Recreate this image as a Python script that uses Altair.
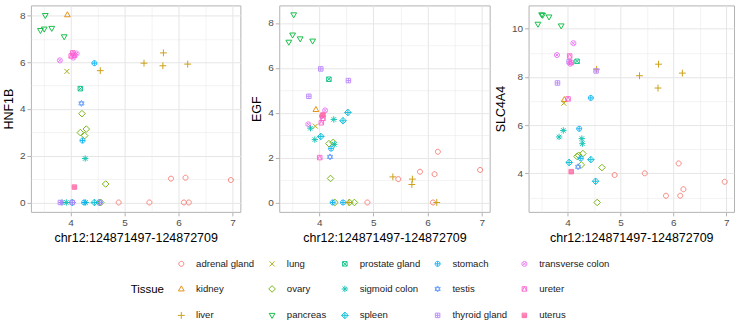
import math
import altair as alt
import pandas as pd

# One row per sample: tissue, chromatin signal at chr12:124871497-124872709,
# and expression of the three genes.
tissue = (
    ["adrenal gland"] * 7
    + ["kidney"]
    + ["liver"] * 5
    + ["lung"]
    + ["ovary"] * 6
    + ["pancreas"] * 5
    + ["prostate gland"]
    + ["sigmoid colon"] * 4
    + ["spleen"] * 3
    + ["stomach"] * 3
    + ["testis"]
    + ["thyroid gland"] * 3
    + ["transverse colon"] * 3
    + ["ureter"] * 3
    + ["uterus"]
)

region_signal = [
    4.89, 5.46, 5.86, 6.10, 6.13, 6.19, 6.97,   # adrenal gland
    3.94,                                       # kidney
    4.55, 5.36, 5.71, 5.72, 6.17,               # liver
    3.93,                                       # lung
    4.18, 4.21, 4.26, 4.29, 4.56, 4.65,         # ovary
    3.44, 3.51, 3.53, 3.65, 3.88,               # pancreas
    4.18,                                       # prostate gland
    3.84, 3.92, 4.27, 4.28,                     # sigmoid colon
    4.03, 4.44, 4.53,                           # spleen
    4.22, 4.25, 4.44,                           # stomach
    4.20,                                       # testis
    3.81, 4.03, 4.54,                           # thyroid gland
    3.80, 4.05, 4.11,                           # transverse colon
    4.01, 4.04, 4.07,                           # ureter
    4.07,                                       # uterus
]

hnf1b = [
    0.00, 0.00, 1.02, 0.00, 1.06, 0.00, 0.96,
    8.03,
    5.64, 5.96, 5.85, 6.40, 5.92,
    5.61,
    2.99, 3.80, 2.86, 3.14, 0.00, 0.79,
    7.36, 7.42, 8.00, 7.45, 7.09,
    4.87,
    0.00, 0.00, 1.88, 0.00,
    0.00, 0.00, 0.00,
    2.65, 0.00, 5.96,
    4.24,
    0.00, 0.00, 0.00,
    6.08, 6.20, 6.37,
    6.27, 6.40, 6.30,
    0.66,
]

egf = [
    0.00, 1.04, 1.37, 0.00, 1.26, 2.26, 1.45,
    4.14,
    0.00, 1.14, 0.80, 1.04, 0.00,
    3.40,
    2.62, 1.07, 2.68, 0.00, 0.00, 0.00,
    7.14, 7.46, 8.36, 7.29, 7.19,
    5.49,
    3.31, 2.80, 3.70, 2.59,
    2.94, 3.64, 4.01,
    2.40, 0.00, 0.00,
    2.03,
    4.73, 5.95, 5.43,
    3.48, 3.85, 4.10,
    2.00, 3.55, 3.75,
    3.90,
]

slc4a4 = [
    3.93, 4.00, 3.07, 4.41, 3.07, 3.34, 3.65,
    7.06,
    8.32, 8.05, 7.54, 8.53, 8.16,
    6.91,
    4.70, 4.75, 4.35, 4.82, 2.79, 4.24,
    10.19, 10.58, 10.56, 10.49, 10.12,
    8.65,
    5.51, 5.78, 5.44, 5.23,
    4.45, 4.57, 3.67,
    5.85, 4.62, 7.13,
    4.27,
    7.75, 8.63, 8.25,
    8.91, 8.55, 9.40,
    7.09, 8.87, 8.60,
    4.07,
]

df = pd.DataFrame({
    "Tissue": tissue,
    "region": region_signal,
    "HNF1B": hnf1b,
    "EGF": egf,
    "SLC4A4": slc4a4,
})

tissue_levels = [
    "adrenal gland", "kidney", "liver", "lung", "ovary",
    "pancreas", "prostate gland", "sigmoid colon", "spleen", "stomach",
    "testis", "thyroid gland", "transverse colon", "ureter", "uterus",
]

palette = [
    "#F8766D", "#E58700", "#C99800", "#A3A500", "#6BB100",
    "#00BA38", "#00BF7D", "#00C0AF", "#00BCD8", "#00B0F6",
    "#619CFF", "#B983FF", "#E76BF3", "#FD61D1", "#FF67A4",
]

# Outline glyphs in the [-1, 1] symbol box
CIRCLE = "M0.95,0A0.95,0.95 0 1,1 -0.95,0A0.95,0.95 0 1,1 0.95,0Z"
SQUARE = "M-0.85,-0.85L0.85,-0.85L0.85,0.85L-0.85,0.85Z"
glyphs = [
    CIRCLE,                                                  # adrenal gland
    "M0,-1.15L1.1,0.75L-1.1,0.75Z",                          # kidney
    "M-1.3,0L1.3,0M0,-1.3L0,1.3",                            # liver
    "M-0.95,-0.95L0.95,0.95M-0.95,0.95L0.95,-0.95",          # lung
    "M0,-1.25L1.25,0L0,1.25L-1.25,0Z",                       # ovary
    "M0,1.15L1.1,-0.75L-1.1,-0.75Z",                         # pancreas
    SQUARE + "M-0.85,-0.85L0.85,0.85M-0.85,0.85L0.85,-0.85", # prostate gland
    "M-1.2,0L1.2,0M0,-1.2L0,1.2M-0.85,-0.85L0.85,0.85"
    "M-0.85,0.85L0.85,-0.85",                                # sigmoid colon
    "M0,-1.25L1.25,0L0,1.25L-1.25,0ZM-1.25,0L1.25,0M0,-1.25L0,1.25",  # spleen
    CIRCLE + "M-0.95,0L0.95,0M0,-0.95L0,0.95",               # stomach
    "M0,-1.15L1,0.58L-1,0.58ZM0,1.15L1,-0.58L-1,-0.58Z",     # testis
    SQUARE + "M-0.85,0L0.85,0M0,-0.85L0,0.85",               # thyroid gland
    CIRCLE + "M-0.67,-0.67L0.67,0.67M-0.67,0.67L0.67,-0.67", # transverse colon
    SQUARE + "M-0.85,0.85L0,-0.85L0.85,0.85",                # ureter
    SQUARE + "M-0.85,-0.5L0.85,-0.5M-0.85,-0.2L0.85,-0.2"
    "M-0.85,0.1L0.85,0.1M-0.85,0.4L0.85,0.4M-0.85,0.65L0.85,0.65",  # uterus (solid)
]

legend = alt.Legend(
    title="Tissue",
    orient="none",
    legendX=100,
    legendY=254,
    columns=5,
    titleOrient="left",
    titleAnchor="middle",
    titleBaseline="middle",
    titleFontSize=11.5,
    titleFontWeight="normal",
    titleColor="#000000",
    titlePadding=12,
    labelFontSize=9.6,
    labelColor="#1A1A1A",
    labelOffset=10,
    symbolSize=28,
    symbolStrokeWidth=1,
    columnPadding=12,
    rowPadding=14.5,
    padding=0,
)

color = alt.Color(
    "Tissue:N",
    scale=alt.Scale(domain=tissue_levels, range=palette),
    legend=legend,
)
shape = alt.Shape(
    "Tissue:N",
    scale=alt.Scale(domain=tissue_levels, range=glyphs),
    legend=legend,
)


def expanded(values):
    lo, hi = min(values), max(values)
    pad = 0.05 * (hi - lo)
    return [lo - pad, hi + pad]


MAJOR_GRID = "#E6E6E6"
minor_test_x = "datum.value % 1 !== 0"
x_dom = expanded(region_signal)
x_ticks = [v / 2 for v in range(math.ceil(x_dom[0] * 2), math.floor(x_dom[1] * 2) + 1)]

x_axis = alt.Axis(
    values=x_ticks,
    labelExpr="datum.value % 1 === 0 ? format(datum.value, 'd') : ''",
    tickOpacity={"condition": {"test": minor_test_x, "value": 0}, "value": 1},
    gridWidth={"condition": {"test": minor_test_x, "value": 0.5}, "value": 1},
    title="chr12:124871497-124872709",
)


def panel(gene, values, width):
    y_dom = expanded(values)
    y_ticks = list(range(math.ceil(y_dom[0]), math.floor(y_dom[1]) + 1))
    minor_test_y = "datum.value % 2 !== 0"
    y_axis = alt.Axis(
        values=y_ticks,
        labelExpr="datum.value % 2 === 0 ? format(datum.value, 'd') : ''",
        tickOpacity={"condition": {"test": minor_test_y, "value": 0}, "value": 1},
        gridWidth={"condition": {"test": minor_test_y, "value": 0.5}, "value": 1},
        title=gene,
    )
    return alt.Chart(df).mark_point(
        filled=False, size=28, strokeWidth=1, opacity=0.9
    ).encode(
        x=alt.X("region:Q", scale=alt.Scale(domain=x_dom, nice=False, zero=False), axis=x_axis),
        y=alt.Y(f"{gene}:Q", scale=alt.Scale(domain=y_dom, nice=False, zero=False), axis=y_axis),
        color=color,
        shape=shape,
    ).properties(width=width, height=207)


chart = alt.hconcat(
    panel("HNF1B", hnf1b, 210),
    panel("EGF", egf, 211),
    panel("SLC4A4", slc4a4, 206),
    spacing=39,
    bounds="flush",
).properties(
    padding={"left": 1, "top": 4, "right": 5, "bottom": 0},
).configure(
    font="Liberation Sans",
).configure_view(
    stroke="#B3B3B3",
    strokeWidth=1,
).configure_axis(
    domain=False,
    gridColor=MAJOR_GRID,
    tickColor="#B3B3B3",
    tickSize=4,
    labelPadding=2,
    labelFontSize=10,
    labelColor="#4D4D4D",
    titleFontSize=12.5,
    titleFontWeight="normal",
    titleColor="#000000",
    titlePadding=4,
)

chart.save("out.html", embed_options={"renderer": "svg", "actions": False})
